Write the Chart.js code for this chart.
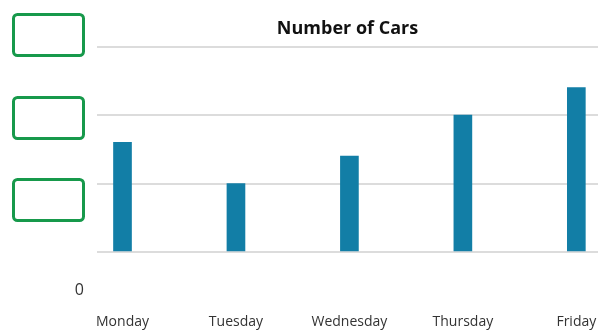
<!DOCTYPE html>
<html>
<head>
<meta charset="utf-8">
<script src="https://cdn.jsdelivr.net/npm/chart.js@4"></script>
<style>
  html, body { margin: 0; padding: 0; background: #fff; overflow: hidden; }
  #wrap { width: 598px; height: 332px; position: relative; }
</style>
</head>
<body>
<div id="wrap"><canvas id="myBarChart"></canvas></div>
<script>
// chart data
const days = ['Monday', 'Tuesday', 'Wednesday', 'Thursday', 'Friday'];
const cars = [16, 10, 14, 20, 24];
const yTickLabels = ['0'];   // only the zero label is visible, the rest are hidden behind the boxes

// green placeholder boxes on the left side
const boxPlugin = {
    id: 'boxes',
    afterDraw(chart) {
        const c = chart.ctx;
        c.save();
        c.strokeStyle = '#17994b';
        c.lineWidth = 3;
        [14.5, 97.5, 179.5].forEach(y => {
            c.beginPath();
            c.roundRect(13.5, y, 70, 41, 4);
            c.stroke();
        });
        c.restore();
    }
};

const ctx = document.getElementById('myBarChart');
if (ctx) {
    new Chart(ctx.getContext('2d'), {
        type: 'bar',
        data: {
            datasets: [{
                label: 'Number of Cars',
                data: days.map((d, i) => ({ x: i, y: cars[i] })),
                backgroundColor: '#127ea6',
                barThickness: 18
            }]
        },
        options: {
            responsive: true,
            maintainAspectRatio: false,
            animation: false,
            layout: { padding: 0 },
            plugins: {
                legend: { display: false },
                tooltip: { enabled: false },
                title: {
                    display: true,
                    text: 'Number of Cars',
                    fullSize: false,
                    color: '#111',
                    font: { family: 'Open Sans', size: 18, weight: 'bold' },
                    padding: { top: 18, bottom: 7 }
                }
            },
            scales: {
                x: {
                    type: 'linear',
                    offset: false,
                    min: -0.2248,
                    max: 4.191,
                    afterFit: scale => {
                        scale.height = 80;
                        scale.paddingLeft = 0;
                        scale.paddingRight = 0;
                    },
                    grid: { display: false, drawTicks: false, offset: false },
                    border: { display: false },
                    ticks: {
                        stepSize: 1,
                        includeBounds: false,
                        autoSkip: false,
                        maxRotation: 0,
                        padding: 62,
                        color: '#333',
                        font: { family: 'Open Sans', size: 14 },
                        callback: v => days[v] || ''
                    }
                },
                y: {
                    min: 0,
                    max: 30,
                    afterFit: scale => {
                        scale.width = 97;
                        scale.paddingTop = 0;
                        scale.paddingBottom = 0;
                    },
                    grid: { color: '#dcdcdc', lineWidth: 2, drawTicks: false },
                    border: { display: false },
                    ticks: {
                        stepSize: 10,
                        padding: 13,
                        labelOffset: 38,
                        color: '#333',
                        font: { family: 'Open Sans', size: 16 },
                        callback: (v, i) => yTickLabels[i] || ''
                    }
                }
            }
        },
        plugins: [boxPlugin]
    });
} else {
    console.error("Canvas element with id 'myBarChart' not found.");
}
</script>
</body>
</html>
